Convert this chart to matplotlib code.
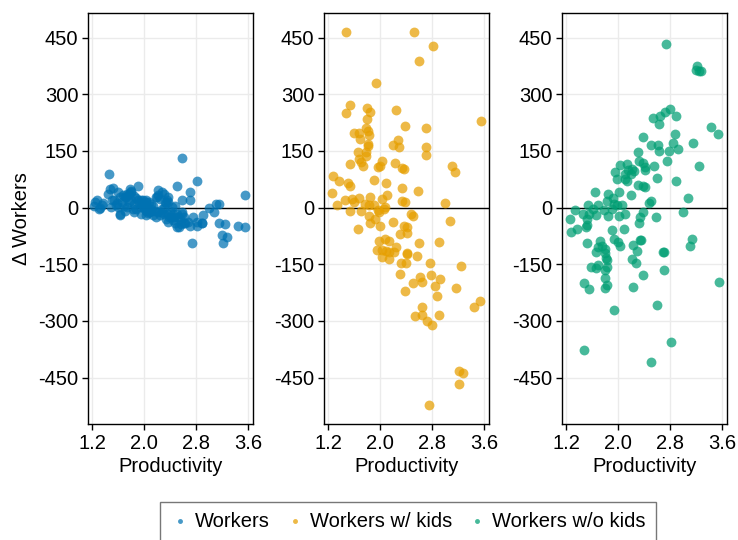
import numpy as np
import matplotlib
matplotlib.use("Agg")
import matplotlib.pyplot as plt

plt.rcParams['font.family'] = ['Liberation Sans', 'DejaVu Sans']
plt.rcParams['axes.unicode_minus'] = False

# panel 1: all workers (productivity, change in workers)
x_all = [2.58, 1.46, 2.82, 1.91, 2.51, 1.52, 1.47, 1.78, 1.79, 1.74, 1.67, 1.72, 1.63, 1.44,
         2.71, 2.70, 2.22, 2.27, 2.31, 2.18, 2.37, 2.21, 2.36, 2.32, 3.56, 2.59, 1.24, 1.23,
         1.35, 1.31, 1.50, 1.49, 1.56, 1.62, 1.79, 1.90, 1.95, 2.03, 2.08, 1.69, 1.74, 1.82,
         1.88, 1.95, 2.00, 2.05, 2.10, 2.16, 2.21, 2.26, 2.31, 2.37, 1.95, 2.03, 2.08, 2.13,
         2.18, 2.37, 2.44, 2.52, 2.42, 2.51, 2.56, 2.63, 2.68, 2.76, 2.81, 2.89, 2.90, 3.00,
         3.07, 3.11, 3.15, 3.15, 3.25, 3.44, 3.55, 3.20, 3.27, 3.22, 2.74, 2.46, 2.50, 2.58,
         1.27, 1.37, 1.32, 1.53, 1.59, 1.80, 1.77, 1.71, 1.98, 2.03, 2.20, 2.35, 2.33, 2.43,
         1.63, 2.58, 2.38, 2.61, 2.71, 2.89, 2.82, 2.53, 1.85, 1.88, 1.92, 1.97, 2.02, 2.06,
         2.12, 2.14, 2.24, 2.28, 2.34, 2.40, 2.45, 2.47, 1.58, 1.66, 1.70, 1.84, 1.76, 2.00,
         2.10, 2.25, 2.55, 2.62, 2.48, 2.30, 1.85, 1.60]
y_all = [130, 88, 70, 58, 57, 53, 48, 49, 42, 36, 34, 27, 27, 36,
         42, 19, 47, 42, 36, 27, 27, 32, 14, 14, 32, 19, 16, 5,
         7, -4, 19, 1, 7, -19, 19, 20, 19, 14, 16, 5, 1, -4,
         -4, 1, 5, 1, -4, -8, -12, -12, -17, -17, -17, -21, -12, -21,
         -26, -39, -34, -26, -26, -52, -43, -41, -37, -26, -50, -41, -21, 0,
         -11, 10, 9, -41, -44, -50, -52, -72, -79, -94, -94, -24, -17, -12,
         19, 13, -2, 19, 40, 44, 37, 28, 19, 21, 28, 19, 11, 2,
         -16, -16, -26, -41, -49, -40, -38, -51, 10, 25, 12, 8, -8, -15,
         -10, 5, -20, -5, -30, -10, -18, -40, 12, 15, -8, 30, 14, -2,
         10, 22, -30, -25, 5, 0, -12, 2]

# panel 2: workers with kids
x_kids = [1.48, 2.52, 2.82, 2.60, 1.93, 1.54, 1.79, 1.84, 1.48, 2.24, 1.79, 3.56, 2.38, 2.71,
          1.78, 1.81, 1.59, 1.68, 1.83, 1.69, 2.28, 2.20, 1.81, 1.81, 2.29, 2.71, 1.66, 1.78,
          1.78, 2.71, 1.68, 1.70, 1.53, 1.74, 2.23, 2.03, 1.96, 1.99, 3.11, 3.15, 2.34, 2.37,
          1.27, 1.37, 1.91, 2.09, 1.51, 1.53, 2.33, 2.59, 1.25, 2.11, 1.84, 1.46, 1.57, 1.60,
          1.67, 2.02, 2.34, 2.39, 3.00, 1.33, 1.77, 1.82, 1.90, 2.08, 2.06, 1.96, 1.98, 1.53,
          1.70, 1.92, 1.82, 1.84, 2.47, 2.51, 2.20, 3.07, 1.65, 2.00, 2.36, 2.42, 2.30, 2.41,
          1.98, 2.08, 2.13, 1.95, 2.03, 2.09, 2.24, 2.14, 2.21, 2.60, 2.90, 2.41, 2.42, 2.03,
          2.13, 2.56, 2.32, 2.40, 2.77, 3.25, 2.31, 2.78, 2.62, 2.64, 2.92, 2.51, 2.85, 3.17,
          2.39, 2.87, 2.64, 3.44, 3.54, 2.53, 2.64, 2.90, 2.72, 2.80, 3.21, 3.28, 3.22, 2.75]
y_kids = [466, 466, 428, 388, 330, 271, 264, 253, 249, 258, 234, 230, 216, 210,
          210, 202, 197, 197, 191, 182, 178, 166, 169, 163, 160, 160, 147, 147,
          137, 138, 129, 121, 116, 109, 119, 122, 108, 110, 111, 94, 105, 103,
          83, 71, 72, 64, 64, 57, 52, 45, 38, 34, 28, 19, 23, 15,
          26, 22, 17, 14, 13, 8, 9, 8, 8, 2, -5, -7, -12, -9,
          -9, -31, -23, -40, -16, -23, -38, -35, -56, -49, -49, -52, -71, -67,
          -88, -84, -88, -112, -112, -115, -104, -119, -118, -94, -92, -124, -120, -131,
          -135, -128, -147, -147, -147, -154, -176, -178, -185, -197, -190, -200, -207, -212,
          -222, -235, -264, -263, -248, -287, -285, -285, -300, -310, -433, -438, -466, -524]

# panel 3: workers without kids
x_nokids = [2.74, 3.22, 3.20, 3.24, 3.27, 2.80, 2.72, 2.64, 2.53, 2.89, 2.63, 3.43, 3.54, 2.87,
            2.39, 3.15, 2.84, 2.51, 2.61, 2.92, 2.63, 2.78, 2.30, 2.32, 2.39, 2.76, 2.03, 2.13,
            2.55, 3.25, 2.22, 2.25, 2.41, 2.42, 2.15, 2.11, 2.20, 1.95, 1.98, 2.10, 2.13, 2.60,
            2.89, 2.30, 2.38, 2.42, 1.64, 1.84, 2.01, 2.19, 3.07, 1.92, 2.50, 2.47, 1.82, 1.53,
            1.69, 1.94, 1.98, 2.06, 1.33, 1.25, 1.27, 1.36, 1.46, 1.52, 1.55, 1.61, 1.66, 1.78,
            1.84, 1.91, 2.01, 2.11, 2.38, 2.33, 2.32, 2.58, 3.00, 1.52, 1.50, 2.09, 1.91, 1.52,
            1.72, 1.75, 1.69, 1.66, 1.79, 1.79, 1.94, 2.00, 2.02, 2.23, 2.29, 2.21, 2.34, 2.35,
            2.69, 2.70, 3.14, 3.11, 1.81, 1.82, 1.58, 1.69, 1.66, 1.83, 1.79, 1.79, 2.28, 2.38,
            2.70, 1.48, 1.55, 1.83, 1.79, 2.23, 3.55, 1.93, 2.60, 2.82, 1.48, 2.51]
y_nokids = [432, 374, 363, 361, 361, 262, 253, 243, 236, 242, 221, 214, 195, 195,
            187, 171, 171, 166, 166, 156, 150, 150, 147, 123, 119, 123, 112, 115,
            110, 109, 103, 97, 108, 99, 99, 90, 88, 93, 75, 75, 71, 77,
            71, 59, 57, 54, 40, 35, 41, 33, 26, 26, 17, 11, 17, 7,
            7, 9, 8, 8, -7, -31, -64, -56, -17, -29, -17, -5, -21, -7,
            -23, -4, -22, -18, -11, -25, -41, -26, -12, -45, -51, -56, -60, -94,
            -88, -101, -104, -118, -109, -120, -84, -92, -102, -100, -116, -136, -86, -86,
            -119, -119, -82, -101, -133, -139, -157, -151, -161, -157, -166, -187, -147, -179,
            -166, -200, -216, -206, -212, -211, -196, -270, -257, -357, -376, -409]

series = [(x_all, y_all, "Workers", "#0072B2"),
          (x_kids, y_kids, "Workers w/ kids", "#E69F00"),
          (x_nokids, y_nokids, "Workers w/o kids", "#009E73")]

fs = 14.5
fig = plt.figure(figsize=(7.38, 5.4), dpi=100)
lefts = [88, 324, 562]
handles = []
for i, (xs, ys, lab, col) in enumerate(series):
    ax = fig.add_axes([lefts[i] / 738, 1 - 424 / 540, 165 / 738, 411 / 540])
    ax.set_axisbelow(True)
    ax.grid(True, color="#ebebeb", linewidth=1)
    ax.axhline(0, color="black", linewidth=1, zorder=1)
    h = ax.scatter(xs, ys, s=50, color=col, alpha=0.72, linewidths=0, label=lab, zorder=2)
    handles.append(h)
    ax.set_xlim(1.133, 3.678)
    ax.set_ylim(-573, 515)
    ax.set_xticks([1.2, 2.0, 2.8, 3.6])
    ax.set_yticks([-450, -300, -150, 0, 150, 300, 450])
    ax.tick_params(labelsize=fs, length=4, width=1, color="black", pad=3)
    for sp in ax.spines.values():
        sp.set_linewidth(1)
    ax.set_xlabel("Productivity", fontsize=fs, labelpad=3)
    if i == 0:
        ax.set_ylabel("Δ Workers", fontsize=fs, labelpad=5)

leg = fig.legend(handles=handles, loc="lower center", bbox_to_anchor=(0.553, -0.02),
                 ncol=3, fontsize=fs, markerscale=0.5, frameon=True, fancybox=False,
                 edgecolor="#555555", handletextpad=0.3, columnspacing=0.8,
                 borderpad=0.5, handlelength=0.9)
leg.get_frame().set_linewidth(1)

fig.savefig("out.png", dpi=100)
